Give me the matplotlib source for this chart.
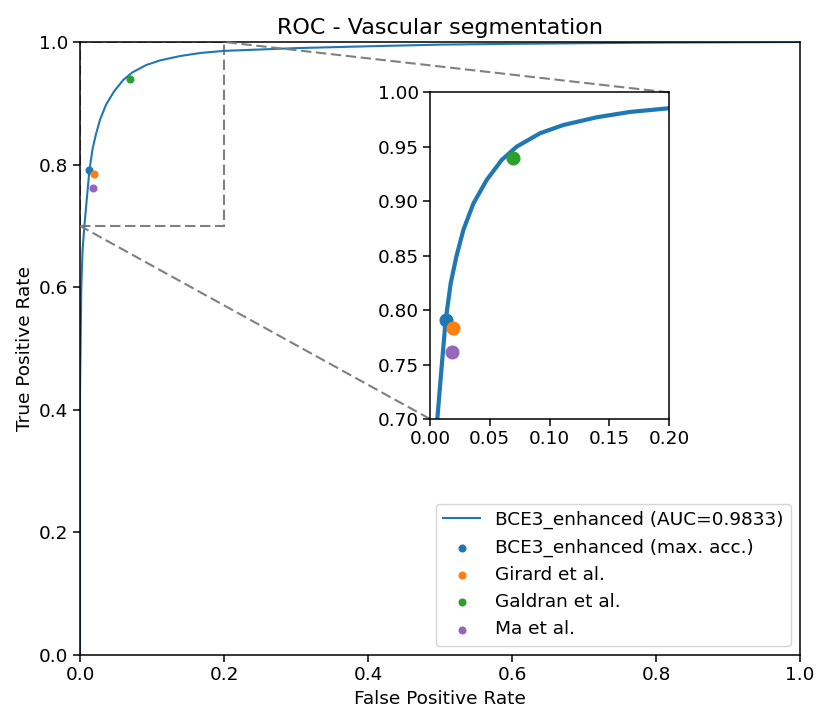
import matplotlib
matplotlib.use("Agg")
import matplotlib.pyplot as plt
from mpl_toolkits.axes_grid1.inset_locator import mark_inset

plt.rcParams["font.size"] = 13.3
plt.rcParams["axes.linewidth"] = 1.1
for a in ("xtick", "ytick"):
    plt.rcParams[a + ".major.size"] = 4.7
    plt.rcParams[a + ".major.width"] = 1.1

# ROC curve
fpr = [0.0, 0.0, 0.0018, 0.0035, 0.0061, 0.0098, 0.0131, 0.0173, 0.0220,
       0.0279, 0.0363, 0.0474, 0.0600, 0.0725, 0.0920, 0.1116, 0.1395,
       0.1674, 0.2000, 0.3000, 0.4000, 0.5000, 0.6000, 0.8000, 1.0]
tpr = [0.0, 0.43, 0.60, 0.66, 0.700, 0.749, 0.791, 0.8247, 0.849,
       0.8737, 0.898, 0.9196, 0.938, 0.9502, 0.9625, 0.9701, 0.9772,
       0.9821, 0.9855, 0.990, 0.993, 0.9957, 0.997, 0.999, 1.0]

# other methods (fpr, tpr)
names = ["BCE3_enhanced (max. acc.)", "Girard et al.", "Galdran et al.", "Ma et al."]
pt_fpr = [0.0131, 0.0190, 0.0697, 0.0184]
pt_tpr = [0.7913, 0.7839, 0.9398, 0.7618]
colors = ["C0", "C1", "C2", "C4"]

fig = plt.figure(figsize=(8.3, 7.24), dpi=100)
ax = fig.add_axes([0.0964, 0.0953, 0.8675, 0.8467])
ax.plot(fpr, tpr, color="C0", lw=1.5, label="BCE3_enhanced (AUC=0.9833)")
for x, y, c, n in zip(pt_fpr, pt_tpr, colors, names):
    ax.scatter(x, y, s=23, color=c, label=n, zorder=3)
ax.set_xlim(0, 1)
ax.set_ylim(0, 1)
ax.set_title("ROC - Vascular segmentation", fontsize=16)
ax.set_xlabel("False Positive Rate")
ax.set_ylabel("True Positive Rate")
ax.legend(loc="lower right")

axins = fig.add_axes([0.5181, 0.4213, 0.2880, 0.4510])
axins.plot(fpr, tpr, color="C0", lw=3)
for x, y, c in zip(pt_fpr, pt_tpr, colors):
    axins.scatter(x, y, s=83, color=c, zorder=3)
axins.set_xlim(0, 0.2)
axins.set_ylim(0.7, 1.0)
axins.set_xticks([0, 0.05, 0.1, 0.15, 0.2])
axins.set_yticks([0.7, 0.75, 0.8, 0.85, 0.9, 0.95, 1.0])
mark_inset(ax, axins, loc1=1, loc2=3, fc="none", ec="0.5",
           ls=(0, (5, 2.2)), lw=1.5)

fig.savefig("out.png", dpi=100)
